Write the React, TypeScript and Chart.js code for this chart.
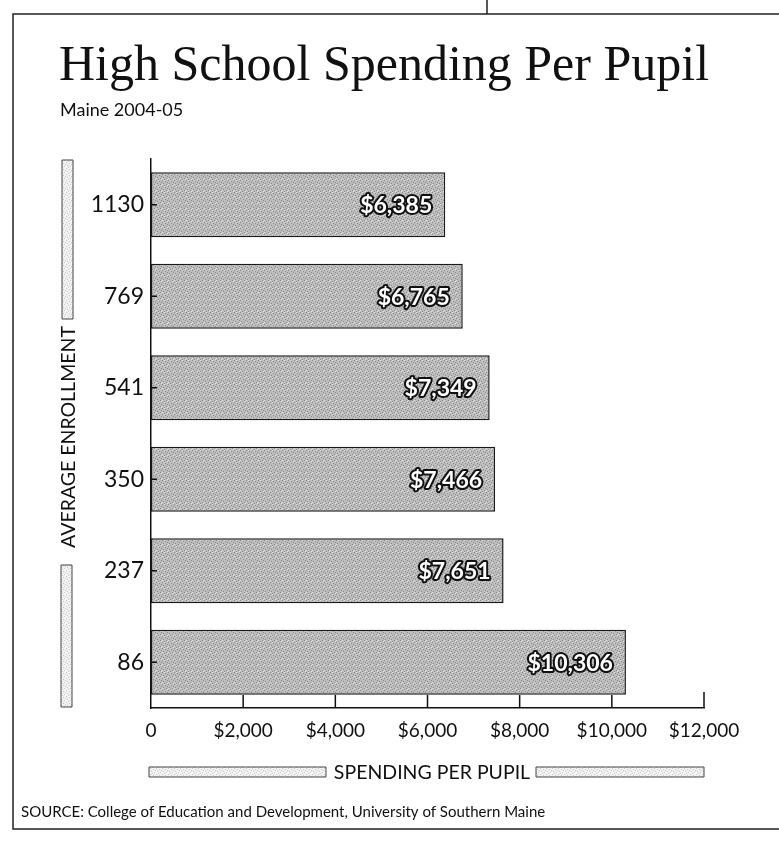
import React, { useEffect, useRef } from "react";
import { Chart, registerables } from "chart.js";

Chart.register(...registerables);

const enrollment = ["1130", "769", "541", "350", "237", "86"];
const spending = [6385, 6765, 7349, 7466, 7651, 10306];
const xTicks = [0, 2000, 4000, 6000, 8000, 10000, 12000];

const TITLE = "High School Spending Per Pupil";
const SUBTITLE = "Maine 2004-05";
const Y_TITLE = "AVERAGE ENROLLMENT";
const X_TITLE = "SPENDING PER PUPIL";
const SOURCE = "SOURCE: College of Education and Development, University of Southern Maine";

const SANS = "Lato, 'Open Sans', sans-serif";
const SERIF = "'Liberation Serif', 'DejaVu Serif', serif";

function fmtMoney(v: number) {
  if (v === 0) return "0";
  return "$" + v.toLocaleString("en-US");
}

function makePattern(light: boolean): CanvasPattern | string {
  const c = document.createElement("canvas");
  c.width = 6;
  c.height = 6;
  const g = c.getContext("2d");
  if (!g) return light ? "#eeeeee" : "#b4b4b4";
  g.fillStyle = light ? "#f1f1f1" : "#bdbdbd";
  g.fillRect(0, 0, 6, 6);
  g.fillStyle = light ? "#c8c8c8" : "#8a8a8a";
  const dots = [[0, 0], [3, 1], [1, 3], [4, 4], [2, 5], [5, 2]];
  dots.forEach(([x, y]) => g.fillRect(x, y, 1, 1));
  g.fillStyle = light ? "#ffffff" : "#e0e0e0";
  const wd = [[2, 0], [5, 5], [0, 4]];
  wd.forEach(([x, y]) => g.fillRect(x, y, 1, 1));
  return g.createPattern(c, "repeat") || "#b4b4b4";
}

const decorPlugin = {
  id: "decor",
  afterDraw(chart: any) {
    const ctx = chart.ctx as CanvasRenderingContext2D;
    const a = chart.chartArea;
    const xs = chart.scales.x;
    const ys = chart.scales.y;
    const light = makePattern(true);
    ctx.save();

    // frame
    ctx.strokeStyle = "#222";
    ctx.lineWidth = 1.5;
    ctx.beginPath();
    ctx.moveTo(779, 14);
    ctx.lineTo(13, 14);
    ctx.lineTo(13, 829);
    ctx.lineTo(779, 829);
    ctx.moveTo(487, 0);
    ctx.lineTo(487, 14);
    ctx.stroke();

    // title & subtitle
    ctx.fillStyle = "#111";
    ctx.textAlign = "left";
    ctx.textBaseline = "alphabetic";
    ctx.font = `50px ${SERIF}`;
    ctx.fillText(TITLE, 59, 80);
    ctx.font = `18px ${SANS}`;
    ctx.textBaseline = "middle";
    ctx.fillText(SUBTITLE, 60, 110);

    // ticks on y axis (inside)
    ctx.strokeStyle = "#111";
    ctx.lineWidth = 1.5;
    ctx.beginPath();
    enrollment.forEach((_, i) => {
      const y = ys.getPixelForValue(i);
      ctx.moveTo(a.left, y);
      ctx.lineTo(a.left + 6, y);
    });
    // ticks on x axis (upwards)
    xTicks.forEach((v, i) => {
      if (v === 0) return;
      const x = xs.getPixelForValue(v);
      ctx.moveTo(x, a.bottom);
      ctx.lineTo(x, a.bottom - (i === xTicks.length - 1 ? 16 : 13));
    });
    ctx.stroke();

    // value labels
    const meta = chart.getDatasetMeta(0);
    ctx.font = `bold 23px ${SANS}`;
    ctx.textAlign = "right";
    ctx.textBaseline = "middle";
    ctx.lineJoin = "round";
    meta.data.forEach((bar: any, i: number) => {
      const t = "$" + spending[i].toLocaleString("en-US");
      const x = bar.x - 13;
      ctx.strokeStyle = "#111";
      ctx.lineWidth = 4;
      ctx.strokeText(t, x, bar.y + 1);
      ctx.fillStyle = "#fff";
      ctx.fillText(t, x, bar.y + 1);
    });

    // y axis title with bars
    ctx.save();
    ctx.translate(68, 437);
    ctx.rotate(-Math.PI / 2);
    ctx.font = `19.5px ${SANS}`;
    ctx.fillStyle = "#111";
    ctx.textAlign = "center";
    ctx.textBaseline = "middle";
    ctx.fillText(Y_TITLE, 0, 1);
    ctx.restore();
    ctx.fillStyle = light;
    ctx.strokeStyle = "#444";
    ctx.lineWidth = 1;
    ctx.fillRect(62, 160, 11, 159);
    ctx.strokeRect(62, 160, 11, 159);
    ctx.fillRect(61, 565, 11, 142);
    ctx.strokeRect(61, 565, 11, 142);

    // x axis title with bars
    ctx.font = `19.5px ${SANS}`;
    ctx.fillStyle = "#111";
    ctx.textAlign = "center";
    ctx.textBaseline = "middle";
    ctx.fillText(X_TITLE, 432, 773);
    ctx.fillStyle = light;
    ctx.fillRect(149, 767, 177, 10);
    ctx.strokeRect(149, 767, 177, 10);
    ctx.fillRect(536, 767, 168, 10);
    ctx.strokeRect(536, 767, 168, 10);

    // source
    ctx.font = `15px ${SANS}`;
    ctx.fillStyle = "#111";
    ctx.textAlign = "left";
    ctx.fillText(SOURCE, 21, 812);

    ctx.restore();
  },
};

export default function App() {
  const ref = useRef<HTMLCanvasElement | null>(null);
  useEffect(() => {
    document.body.style.margin = "0";
    const canvas = ref.current;
    if (!canvas) return;
    const chart = new Chart(canvas, {
      type: "bar",
      data: {
        labels: enrollment,
        datasets: [
          {
            data: spending,
            backgroundColor: makePattern(false) as any,
            borderColor: "#1a1a1a",
            borderWidth: 1.5,
            borderSkipped: false,
            barPercentage: 0.71,
            categoryPercentage: 1,
          },
        ],
      },
      options: {
        indexAxis: "y",
        animation: false,
        responsive: false,
        devicePixelRatio: 1,
        layout: { padding: { left: 0, top: 159, right: 75, bottom: 0 } },
        plugins: {
          legend: { display: false },
          tooltip: { enabled: false },
          title: { display: false },
        },
        scales: {
          x: {
            min: 0,
            max: 12000,
            afterFit: (s: any) => {
              s.height = 845 - 708;
            },
            afterBuildTicks: (s: any) => {
              s.ticks = xTicks.map((v) => ({ value: v }));
            },
            grid: { display: false, drawTicks: false },
            border: { display: true, color: "#111", width: 1.5 },
            ticks: {
              padding: 11,
              color: "#111",
              font: { family: SANS, size: 19 },
              callback: (v: any) => fmtMoney(Number(v)),
              maxRotation: 0,
              autoSkip: false,
            },
          },
          y: {
            afterFit: (s: any) => {
              s.width = 151;
            },
            grid: { display: false, drawTicks: false },
            border: { display: true, color: "#111", width: 1.5 },
            ticks: {
              padding: 7,
              color: "#111",
              font: { family: SANS, size: 23 },
            },
          },
        },
      },
      plugins: [decorPlugin],
    });
    return () => chart.destroy();
  }, []);
  return (
    <div style={{ width: 779, height: 845, background: "#fff" }}>
      <canvas ref={ref} width={779} height={845} style={{ display: "block" }} />
    </div>
  );
}
